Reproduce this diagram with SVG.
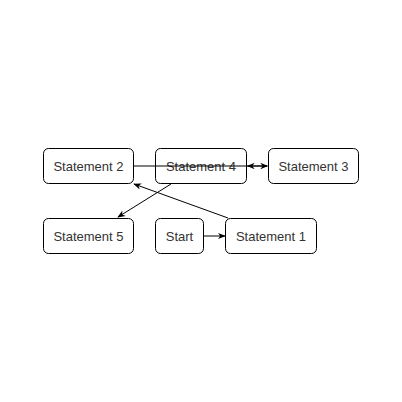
<svg xmlns="http://www.w3.org/2000/svg" width="402" height="402" viewBox="0 0 402 402">
<defs>
<style>
.box{fill:#fff;stroke:#000;stroke-width:1}
.lbl{font-family:"Liberation Sans",Arial,sans-serif;font-size:13px;fill:#333;text-anchor:middle;dominant-baseline:central}
.edge{fill:none;stroke:#000;stroke-width:1}
</style>
<marker id="arr" viewBox="0 0 10 10" refX="9" refY="5" markerWidth="8" markerHeight="8" markerUnits="userSpaceOnUse" orient="auto">
<path d="M0,1 L10,5 L0,9 L3,5 Z" fill="#000"/>
</marker>
</defs>
<rect width="402" height="402" fill="#fff"/>
<g id="n-s2"><rect class="box" x="43.5" y="148.5" width="90" height="35" rx="5"/><text class="lbl" x="88.5" y="166">Statement 2</text></g>
<g id="n-s4"><rect class="box" x="155.5" y="148.5" width="91" height="35" rx="5"/><text class="lbl" x="201" y="166">Statement 4</text></g>
<g id="n-s3"><rect class="box" x="268.5" y="148.5" width="90" height="35" rx="5"/><text class="lbl" x="313.5" y="166">Statement 3</text></g>
<g id="n-s5"><rect class="box" x="43.5" y="218.5" width="90" height="35" rx="5"/><text class="lbl" x="88.5" y="236">Statement 5</text></g>
<g id="n-start"><rect class="box" x="155.5" y="218.5" width="48" height="35" rx="5"/><text class="lbl" x="179.5" y="236">Start</text></g>
<g id="n-s1"><rect class="box" x="225.5" y="218.5" width="91" height="35" rx="5"/><text class="lbl" x="271" y="236">Statement 1</text></g>
<g id="connectors">
<path class="edge" d="M133.5,166 L267.5,166" marker-end="url(#arr)"/>
<path class="edge" d="M267,166 L247.5,166" marker-end="url(#arr)"/>
<path class="edge" d="M171,184 L118,217" marker-end="url(#arr)"/>
<path class="edge" d="M228,218 L134,184" marker-end="url(#arr)"/>
<path class="edge" d="M203.5,236 L225,236" marker-end="url(#arr)"/>
</g>
</svg>
